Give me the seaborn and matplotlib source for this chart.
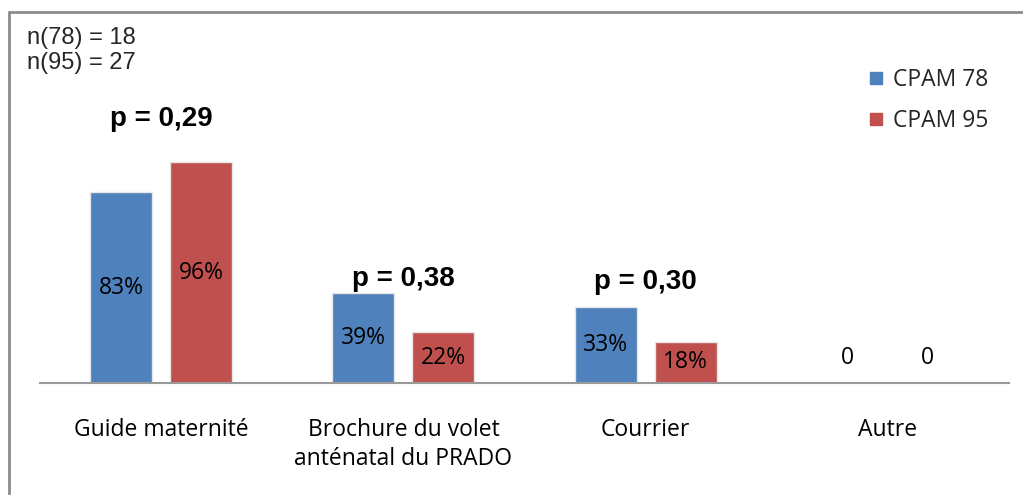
import matplotlib
matplotlib.use("Agg")
import matplotlib.pyplot as plt
import seaborn as sns
import pandas as pd
from matplotlib.lines import Line2D

categories = ["Guide maternité", "Brochure du volet\nanténatal du PRADO", "Courrier", "Autre"]
series_names = ["CPAM 78", "CPAM 95"]
cpam78 = [83, 39, 33, 0]
cpam95 = [96, 22, 18, 0]
p_values = ["p = 0,29", "p = 0,38", "p = 0,30", None]
sample_text = ["n(78) = 18", "n(95) = 27"]
colors = ["#4F81BD", "#C0504D"]

df = pd.DataFrame({
    "cat": categories * 2,
    "serie": [series_names[0]] * 4 + [series_names[1]] * 4,
    "val": cpam78 + cpam95,
})

sns.set_theme(style="white")
plt.rcParams["font.family"] = ["Open Sans", "DejaVu Sans"]

fig = plt.figure(figsize=(10.23, 4.95), dpi=100)
W, H = 1023, 495
ax = fig.add_axes([40 / W, (H - 383) / H, (1009 - 40) / W, (383 - 61) / H])

sns.barplot(data=df, x="cat", y="val", hue="serie", palette=colors,
            width=0.66, gap=0.225, ax=ax, legend=False,
            edgecolor="#e6e6e6", linewidth=1.0, saturation=1)

ax.set_xlim(-0.5, 3.5)
ax.set_ylim(0, 140)
ax.set_xlabel("")
ax.set_ylabel("")
ax.set_yticks([])
ax.tick_params(axis="x", length=0, pad=25, labelsize=16.5, labelcolor="black")
for lbl in ax.get_xticklabels():
    lbl.set_linespacing(1.3)
for s in ["top", "right", "left"]:
    ax.spines[s].set_visible(False)
ax.spines["bottom"].set_color("#9a9a9a")
ax.spines["bottom"].set_linewidth(1.5)

# value labels
for container, vals in zip(ax.containers, [cpam78, cpam95]):
    for bar, v in zip(container, vals):
        cx = bar.get_x() + bar.get_width() / 2
        if v > 0:
            ax.text(cx, v / 2, f"{v}%", ha="center", va="center", fontsize=16.5, color="black")
        else:
            ax.text(cx, 11, "0", ha="center", va="center", fontsize=16.5, color="black")

# p-values
p_y = [115, 45, 44]
for i, (p, y) in enumerate(zip(p_values, p_y + [None])):
    if p:
        ax.text(i, y, p, ha="center", va="center", fontsize=20, fontweight="bold",
                family="Liberation Sans", color="black")

# sample sizes
fig.text(27 / W, 1 - 38 / H, sample_text[0], ha="left", va="center", fontsize=17,
         family="Liberation Sans")
fig.text(27 / W, 1 - 63 / H, sample_text[1], ha="left", va="center", fontsize=17,
         family="Liberation Sans")

# legend
handles = [Line2D([0], [0], marker="s", linestyle="none", markersize=9,
                  markerfacecolor=c, markeredgecolor=c) for c in colors]
fig.legend(handles, series_names, loc="upper left", bbox_to_anchor=(859 / W, 1 - 59 / H),
           frameon=False, fontsize=16.5, handlelength=0.7, handletextpad=0.4,
           labelspacing=0.75, borderaxespad=0)

# border (top and left)
fig.add_artist(Line2D([9 / W, 9 / W], [0, 1 - 12 / H], transform=fig.transFigure,
                      color="#8c8c8c", linewidth=2))
fig.add_artist(Line2D([9 / W, 1], [1 - 12 / H, 1 - 12 / H], transform=fig.transFigure,
                      color="#8c8c8c", linewidth=2))

fig.savefig("out.png", dpi=100, facecolor="white")
